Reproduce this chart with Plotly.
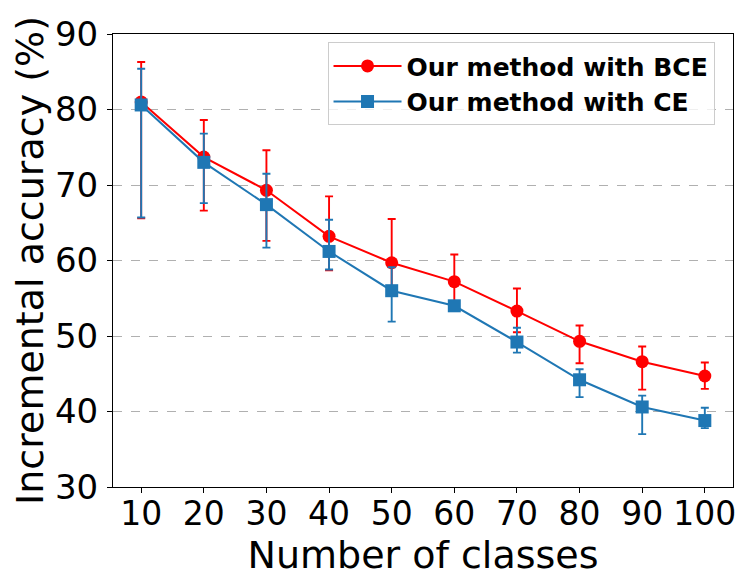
import plotly.graph_objects as go

classes = [10, 20, 30, 40, 50, 60, 70, 80, 90, 100]

bce_mean = [81.0, 73.7, 69.3, 63.2, 59.7, 57.2, 53.3, 49.3, 46.6, 44.7]
bce_high = [86.3, 78.6, 74.6, 68.5, 65.5, 60.8, 56.3, 51.4, 48.6, 46.5]
bce_low = [65.6, 66.6, 62.6, 58.7, 56.0, 54.0, 50.5, 46.4, 42.9, 43.0]

ce_mean = [80.6, 73.0, 67.4, 61.2, 56.0, 54.0, 49.2, 44.2, 40.6, 38.8]
ce_high = [85.4, 76.8, 71.5, 65.4, 59.1, 54.5, 51.1, 45.6, 42.1, 40.5]
ce_low = [65.7, 67.6, 61.7, 58.8, 51.9, 53.5, 47.8, 41.9, 37.0, 37.8]

y_ticks = [30, 40, 50, 60, 70, 80, 90]


def err(mean, high, low, color):
    return dict(
        type='data', symmetric=False,
        array=[h - m for h, m in zip(high, mean)],
        arrayminus=[m - l for m, l in zip(mean, low)],
        color=color, thickness=1.9, width=4,
    )


fig = go.Figure()
fig.add_trace(go.Scatter(
    x=classes, y=bce_mean, mode='lines+markers', name='Our method with BCE',
    line=dict(color='red', width=2),
    marker=dict(symbol='circle', size=13, color='red'),
    error_y=err(bce_mean, bce_high, bce_low, 'red'),
))
fig.add_trace(go.Scatter(
    x=classes, y=ce_mean, mode='lines+markers', name='Our method with CE',
    line=dict(color='#1f77b4', width=2),
    marker=dict(symbol='square', size=13, color='#1f77b4'),
    error_y=err(ce_mean, ce_high, ce_low, '#1f77b4'),
))

axis_common = dict(
    showline=True, linecolor='black', linewidth=1, mirror=True,
    ticks='outside', ticklen=5, tickcolor='black', tickwidth=1,
    zeroline=False, automargin=False,
)

# page has an 8px body margin, so the figure is a bit smaller than the window
fig.update_layout(
    width=738, height=575,
    margin=dict(l=105, r=13, t=26, b=96),
    paper_bgcolor='white', plot_bgcolor='white',
    font=dict(family='DejaVu Sans', color='black'),
    xaxis=dict(
        range=[5.5, 104.5], tickvals=classes, showgrid=False,
        tickfont=dict(size=33), ticklabelstandoff=-8,
        title=dict(text='Number of classes', font=dict(size=38), standoff=2),
        **axis_common,
    ),
    yaxis=dict(
        range=[30, 90], tickvals=y_ticks, showgrid=True,
        gridcolor='#b0b0b0', griddash='dash', gridwidth=1,
        tickfont=dict(size=34), ticklabelstandoff=2,
        title=dict(text='Incremental accuracy (%)', font=dict(size=38), standoff=4),
        **axis_common,
    ),
    legend=dict(
        x=0.346, y=0.982, xanchor='left', yanchor='top',
        bgcolor='rgba(255,255,255,0.8)', bordercolor='#cccccc', borderwidth=1,
        font=dict(size=25, family='DejaVu Sans', weight='bold'),
        itemwidth=68, tracegroupgap=0,
    ),
    showlegend=True,
)

fig.write_html("out.html")
